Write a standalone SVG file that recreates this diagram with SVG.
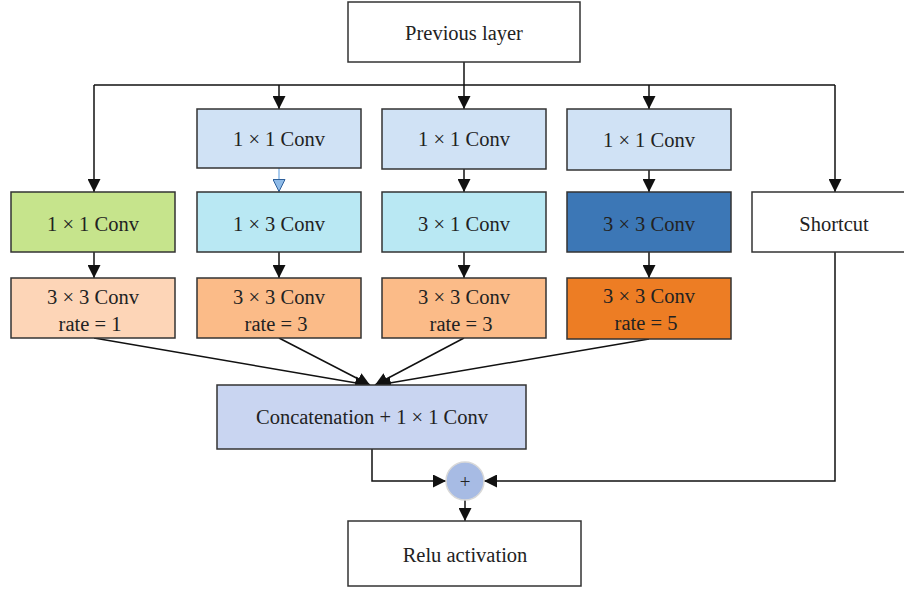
<svg xmlns="http://www.w3.org/2000/svg" width="904" height="591" viewBox="0 0 904 591">
  <defs>
    <marker id="arr" markerUnits="userSpaceOnUse" markerWidth="14" markerHeight="13" refX="13" refY="6.5" orient="auto">
      <path d="M0,0 L13,6.5 L0,13 z" fill="#111"/>
    </marker>
    <marker id="arrBlue" markerUnits="userSpaceOnUse" markerWidth="14" markerHeight="13" refX="13" refY="6.5" orient="auto">
      <path d="M0.5,0.5 L12.5,6.5 L0.5,12.5 z" fill="#8fbbe8" stroke="#2d5f9a" stroke-width="1"/>
    </marker>
    <style>
      .box { stroke: #333; stroke-width: 1.5; }
      .lbl { font-family: "Liberation Serif", "Times New Roman", serif; font-size: 20.5px; fill: #222; text-anchor: middle; }
      .wire { fill: none; stroke: #111; stroke-width: 1.5; }
    </style>
  </defs>
  <rect width="904" height="591" fill="#fff"/>

  <!-- connectors -->
  <g id="connectors">
    <path class="wire" d="M464,62 V109" marker-end="url(#arr)"/>
    <path class="wire" d="M94,85 H835"/>
    <path class="wire" d="M94,85 V192" marker-end="url(#arr)"/>
    <path class="wire" d="M279,85 V109" marker-end="url(#arr)"/>
    <path class="wire" d="M649,85 V109" marker-end="url(#arr)"/>
    <path class="wire" d="M835,85 V192" marker-end="url(#arr)"/>
    <path d="M279,168 V192" fill="none" stroke="#8fbbe8" stroke-width="1.5" marker-end="url(#arrBlue)"/>
    <path class="wire" d="M464,169 V192" marker-end="url(#arr)"/>
    <path class="wire" d="M649,170 V192" marker-end="url(#arr)"/>
    <path class="wire" d="M94,252 V278" marker-end="url(#arr)"/>
    <path class="wire" d="M279,252 V278" marker-end="url(#arr)"/>
    <path class="wire" d="M464,252 V278" marker-end="url(#arr)"/>
    <path class="wire" d="M649,252 V278" marker-end="url(#arr)"/>
    <path class="wire" d="M94,338 L368,385" marker-end="url(#arr)"/>
    <path class="wire" d="M279,338 L370,385" marker-end="url(#arr)"/>
    <path class="wire" d="M464,338 L375,385" marker-end="url(#arr)"/>
    <path class="wire" d="M649,339 L378,385" marker-end="url(#arr)"/>
    <path class="wire" d="M372,449 V481 H446" marker-end="url(#arr)"/>
    <path class="wire" d="M835,252 V481 H484" marker-end="url(#arr)"/>
    <path class="wire" d="M465,500 V521" marker-end="url(#arr)"/>
  </g>

  <g id="previous-layer">
    <rect class="box" x="348" y="2" width="232" height="60" fill="#fff"/>
    <text class="lbl" x="464" y="40">Previous layer</text>
  </g>

  <g id="b2-conv1x1">
    <rect class="box" x="197" y="109" width="164" height="59" fill="#d0e2f5"/>
    <text class="lbl" x="279" y="146">1 × 1 Conv</text>
  </g>
  <g id="b3-conv1x1">
    <rect class="box" x="382" y="109" width="164" height="60" fill="#d0e2f5"/>
    <text class="lbl" x="464" y="146">1 × 1 Conv</text>
  </g>
  <g id="b4-conv1x1">
    <rect class="box" x="567" y="109" width="164" height="61" fill="#d0e2f5"/>
    <text class="lbl" x="649" y="147">1 × 1 Conv</text>
  </g>

  <g id="b1-conv1x1">
    <rect class="box" x="11" y="192" width="164" height="60" fill="#c6e48c"/>
    <text class="lbl" x="93" y="231">1 × 1 Conv</text>
  </g>
  <g id="b2-conv1x3">
    <rect class="box" x="197" y="192" width="164" height="60" fill="#b9e8f3"/>
    <text class="lbl" x="279" y="231">1 × 3 Conv</text>
  </g>
  <g id="b3-conv3x1">
    <rect class="box" x="382" y="192" width="164" height="60" fill="#b9e8f3"/>
    <text class="lbl" x="464" y="231">3 × 1 Conv</text>
  </g>
  <g id="b4-conv3x3">
    <rect class="box" x="567" y="192" width="164" height="60" fill="#3c77b6"/>
    <text class="lbl" x="649" y="231">3 × 3 Conv</text>
  </g>
  <g id="shortcut">
    <rect class="box" x="752" y="192" width="166" height="60" fill="#fff"/>
    <text class="lbl" x="834" y="231">Shortcut</text>
  </g>

  <g id="b1-atrous">
    <rect class="box" x="11" y="278" width="164" height="60" fill="#fdd5b7"/>
    <text class="lbl" x="93" y="304">3 × 3 Conv</text>
    <text class="lbl" x="90" y="331">rate = 1</text>
  </g>
  <g id="b2-atrous">
    <rect class="box" x="197" y="278" width="164" height="60" fill="#fbbb88"/>
    <text class="lbl" x="279" y="304">3 × 3 Conv</text>
    <text class="lbl" x="276" y="331">rate = 3</text>
  </g>
  <g id="b3-atrous">
    <rect class="box" x="382" y="278" width="164" height="60" fill="#fbbb88"/>
    <text class="lbl" x="464" y="304">3 × 3 Conv</text>
    <text class="lbl" x="461" y="331">rate = 3</text>
  </g>
  <g id="b4-atrous">
    <rect class="box" x="567" y="278" width="164" height="61" fill="#ed7d24"/>
    <text class="lbl" x="649" y="303">3 × 3 Conv</text>
    <text class="lbl" x="646" y="330">rate = 5</text>
  </g>

  <g id="concat">
    <rect class="box" x="217" y="385" width="309" height="64" fill="#c9d5f1"/>
    <text class="lbl" x="372" y="424">Concatenation + 1 × 1 Conv</text>
  </g>

  <g id="add">
    <circle cx="465" cy="481" r="19" fill="#a7bbe4" stroke="#d8d8d8" stroke-width="1.5"/>
    <text x="465" y="487.5" font-family="Liberation Serif, serif" font-size="19" fill="#222" text-anchor="middle">+</text>
  </g>

  <g id="relu">
    <rect class="box" x="348" y="521" width="233" height="65" fill="#fff"/>
    <text class="lbl" x="465" y="562">Relu activation</text>
  </g>
</svg>
